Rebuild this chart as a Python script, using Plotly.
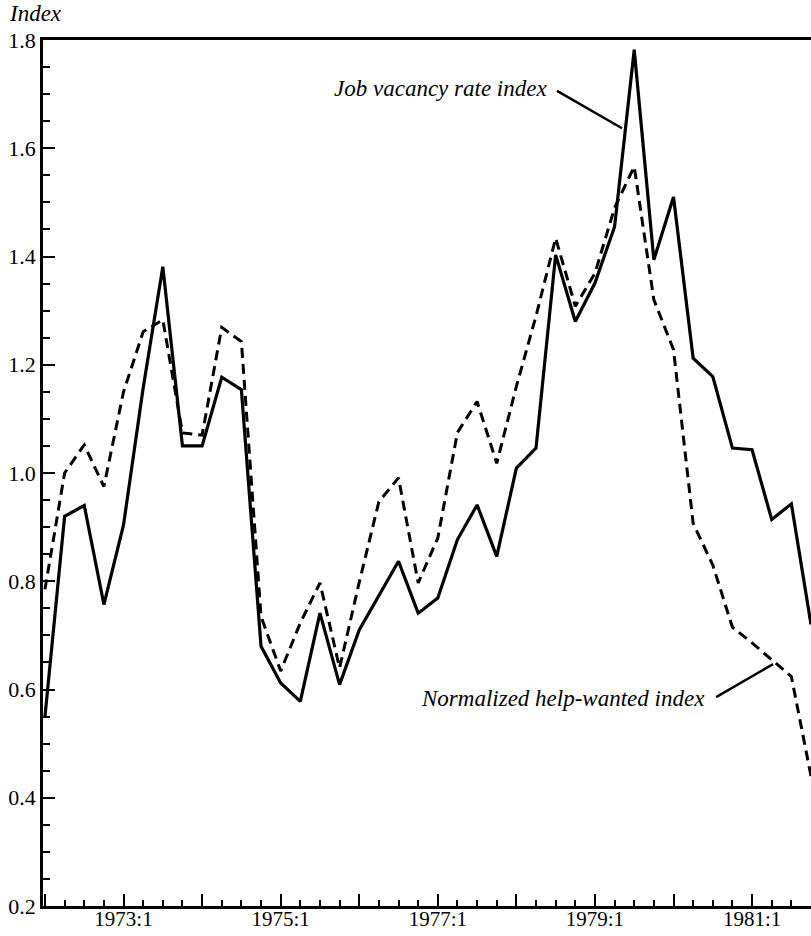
import plotly.graph_objects as go

# Quarters 1972:1 .. 1981:4
quarters = [f"{y}:{q}" for y in range(1972, 1982) for q in range(1, 5)]

job_vacancy = [0.55, 0.92, 0.94, 0.757, 0.904, 1.157, 1.381, 1.05, 1.05, 1.177,
               1.154, 0.68, 0.612, 0.578, 0.741, 0.609, 0.71, 0.775, 0.837, 0.741,
               0.769, 0.877, 0.941, 0.846, 1.009, 1.046, 1.403, 1.28, 1.351, 1.455,
               1.782, 1.394, 1.51, 1.212, 1.178, 1.046, 1.043, 0.914, 0.943, 0.72]

help_wanted = [0.785, 1.0, 1.052, 0.975, 1.15, 1.261, 1.283, 1.074, 1.07, 1.269,
               1.243, 0.735, 0.634, 0.723, 0.797, 0.64, 0.798, 0.947, 0.991, 0.797,
               0.88, 1.075, 1.132, 1.018, 1.16, 1.29, 1.434, 1.308, 1.369, 1.49,
               1.566, 1.32, 1.228, 0.907, 0.83, 0.715, 0.686, 0.655, 0.624, 0.44]

x_labeled = ["1973:1", "1975:1", "1977:1", "1979:1", "1981:1"]
y_ticks = [0.2, 0.4, 0.6, 0.8, 1.0, 1.2, 1.4, 1.6, 1.8]

t = list(range(len(quarters)))
year_starts = [i for i, q in enumerate(quarters) if q.endswith(":1")]
year_text = [quarters[i] if quarters[i] in x_labeled else "" for i in year_starts]

FONT = "Liberation Serif, Times New Roman, serif"

fig = go.Figure()
fig.add_trace(go.Scatter(x=t, y=help_wanted, mode="lines",
                         line=dict(color="black", width=3, dash="10px,6px"),
                         name="Normalized help-wanted index"))
fig.add_trace(go.Scatter(x=t, y=job_vacancy, mode="lines",
                         line=dict(color="black", width=3.2),
                         name="Job vacancy rate index"))

fig.update_layout(
    width=811, height=936,
    margin=dict(l=43, r=0, t=40, b=30, autoexpand=False),
    paper_bgcolor="white", plot_bgcolor="white",
    showlegend=False,
    font=dict(family=FONT, size=21, color="black"),
)

fig.update_xaxes(
    range=[-0.1, 39], showgrid=False, zeroline=False,
    showline=True, linecolor="black", linewidth=2.5, mirror=True,
    ticks="inside", ticklen=12, tickwidth=2, tickcolor="black",
    tickvals=year_starts, ticktext=year_text,
    tickfont=dict(family=FONT, size=21),
    ticklabelstandoff=-8,
    minor=dict(ticks="inside", ticklen=6, tickwidth=2, tickcolor="black",
               dtick=1, tick0=0, showgrid=False),
    automargin=False,
)
fig.update_yaxes(
    range=[0.2, 1.8], showgrid=False, zeroline=False,
    showline=True, linecolor="black", linewidth=2.5, mirror=False,
    ticks="inside", ticklen=12, tickwidth=2, tickcolor="black",
    tickvals=y_ticks, ticktext=[f"{v:.1f}" for v in y_ticks],
    tickfont=dict(family=FONT, size=22),
    minor=dict(ticks="inside", ticklen=7, tickwidth=2, tickcolor="black",
               dtick=0.05, tick0=0.2, showgrid=False),
    automargin=False,
)

# Axis title "Index"
fig.add_annotation(xref="paper", yref="paper", x=-0.047, y=1.031,
                   xanchor="left", yanchor="middle", showarrow=False,
                   text="<i>Index</i>", font=dict(family=FONT, size=23))

# Series labels with pointer lines
fig.add_annotation(x=25.66, y=1.711, xref="x", yref="y", xanchor="right",
                   yanchor="middle", showarrow=False,
                   text="<i>Job vacancy rate index</i>",
                   font=dict(family=FONT, size=23))
fig.add_shape(type="line", xref="x", yref="y", x0=26.07, y0=1.706,
              x1=29.38, y1=1.637, line=dict(color="black", width=2.5))

fig.add_annotation(x=33.71, y=0.584, xref="x", yref="y", xanchor="right",
                   yanchor="middle", showarrow=False,
                   text="<i>Normalized help-wanted index</i>",
                   font=dict(family=FONT, size=23))
fig.add_shape(type="line", xref="x", yref="y", x0=34.17, y0=0.586,
              x1=37.07, y1=0.647, line=dict(color="black", width=2.5))

fig.write_html("out.html")
